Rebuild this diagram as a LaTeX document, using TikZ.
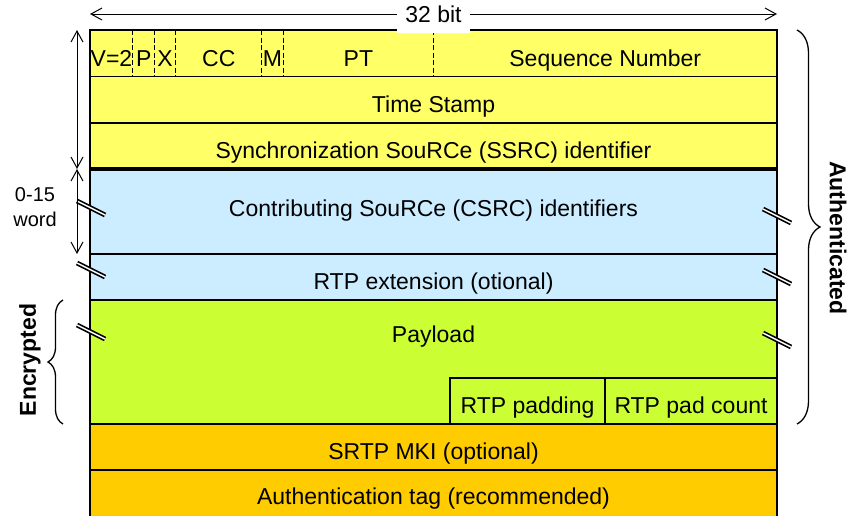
\documentclass[tikz,border=0pt]{standalone}
\usepackage{fontspec}
\setmainfont{Liberation Sans}
\usetikzlibrary{arrows.meta,decorations.pathreplacing}

\definecolor{kopfgelb}{HTML}{FFFF66}
\definecolor{csrcblau}{HTML}{CCECFF}
\definecolor{nutzgruen}{HTML}{CCFF33}
\definecolor{srtporange}{HTML}{FFCC00}

\tikzset{
  schrift/.style={font=\fontsize{23}{27}\selectfont, text height=25.5pt, text depth=0pt},
  feld/.style={draw, line width=1.2pt, anchor=north west, inner sep=0pt, outer sep=0pt,
    minimum width=687pt, schrift},
  bitfeld/.style={inner sep=0pt, outer sep=0pt, schrift},
  bruch/.style={double, double distance=1.4pt, line width=1.7pt},
  klammer/.style={decorate, line width=1.3pt},
}

\begin{document}
\begin{tikzpicture}[x=1pt, y=-1pt, >={Straight Barb[length=11pt,width=12pt]}]
\useasboundingbox (0,0) rectangle (852,515);

% Kopfzeile mit Bitfeldern
\node[feld, fill=kopfgelb, minimum height=46.5pt] (kopf) at (90,30) {};
\foreach \name/\von/\bis/\txt in {v/0/2/V=2, p/2/3/P, x/3/4/X, cc/4/8/CC, m/8/9/M, pt/9/16/PT, seq/16/32/Sequence Number}
  \node[bitfeld, minimum width={(\bis-\von)*21.47pt}, minimum height=46.5pt, anchor=north west]
    (\name) at ({90+\von*21.47},30) {\txt};
\foreach \name in {v,p,x,cc,m,pt}
  \draw[line width=1pt, dash pattern=on 5pt off 2.5pt] (\name.north east) -- (\name.south east);

% Zeilen
\node[feld, fill=kopfgelb, minimum height=46.5pt] (ts) at (kopf.south west) {Time Stamp};
\node[feld, fill=kopfgelb, minimum height=46pt] (ssrc) at (ts.south west) {Synchronization SouRCe (SSRC) identifier};
\node[feld, fill=csrcblau, minimum height=85pt] (csrc) at (ssrc.south west) {};
\node[bitfeld] (csrctext) at ([yshift=8pt]csrc.center) {Contributing SouRCe (CSRC) identifiers};
\node[feld, fill=csrcblau, minimum height=46pt] (ext) at (csrc.south west) {RTP extension (otional)};
\node[feld, fill=nutzgruen, minimum height=124pt] (payload) at (ext.south west) {};
\node[feld, fill=srtporange, minimum height=46pt] (mki) at (payload.south west) {SRTP MKI (optional)};
\node[feld, fill=srtporange, minimum height=48pt] (tag) at (mki.south west) {};
\node[bitfeld] (tagtext) at ([yshift=-22pt]tag.north) {Authentication tag (recommended)};

% Nutzlast mit Padding
\node[bitfeld] (nutzlast) at ([yshift=-30pt]payload.north) {Payload};
\node[feld, fill=nutzgruen, minimum width=172pt, minimum height=46pt, anchor=south east]
  (padcount) at (payload.south east) {RTP pad count};
\node[feld, fill=nutzgruen, minimum width=155pt, minimum height=46pt, anchor=south east]
  (padding) at (padcount.south west) {RTP padding};

% Rahmen
\draw[line width=3.5pt] (ssrc.south west) -- (ssrc.south east);
\draw[line width=2.5pt] (kopf.north west) -- (tag.south west);
\draw[line width=2.5pt] (kopf.north west) -- (kopf.north east) -- (tag.south east);

% Bruchstellen
\foreach \y in {208,270,332}
  \draw[bruch] (91,\y) +(-14,-7) -- +(14,7);
\foreach \y in {216,277,340}
  \draw[bruch] (777,\y) +(-14,-7) -- +(14,7);

% Bemassung
\draw[<->, line width=1pt] ([yshift=16pt]kopf.north west) -- node[fill=white, inner xsep=8.5pt,
  minimum height=38pt, font=\fontsize{23}{27}\selectfont] (breite) {32 bit} ([yshift=16pt]kopf.north east);
\coordinate (pfeil) at (77,0);
\draw[<->, line width=1pt] (pfeil |- kopf.north) -- (pfeil |- ssrc.south);
\draw[<->, line width=1pt] (pfeil |- csrc.north) -- (pfeil |- csrc.south);
\node[align=center, font=\fontsize{20}{25}\selectfont] (worte) at (35,207) {0-15\\word};

% Klammern
\draw[klammer, decoration={brace, amplitude=23pt}] ([xshift=20pt]kopf.north east) -- ([xshift=20pt]payload.south east);
\node[rotate=-90, font=\fontsize{23}{27}\selectfont\bfseries] (auth) at (838,238) {Authenticated};
\draw[klammer, decoration={brace, amplitude=15pt}] ([xshift=-27pt]payload.south west) -- ([xshift=-27pt]payload.north west);
\node[rotate=90, font=\fontsize{23}{27}\selectfont\bfseries] (enc) at (30,360) {Encrypted};

\end{tikzpicture}
\end{document}
